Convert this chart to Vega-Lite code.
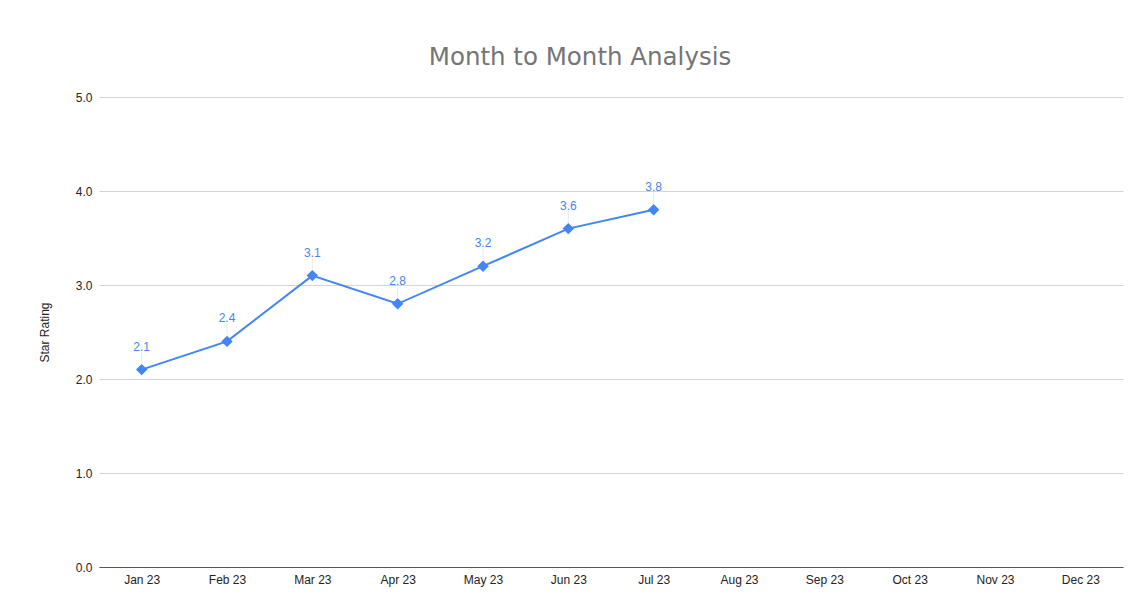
{
  "$schema": "https://vega.github.io/schema/vega-lite/v6.json",
  "autosize": {"type": "none"},
  "width": 1024,
  "height": 470,
  "padding": {"left": 99, "top": 97, "right": 19, "bottom": 42},
  "background": "white",
  "title": {
    "text": "Month to Month Analysis",
    "font": "DejaVu Sans",
    "fontSize": 24.5,
    "fontWeight": "normal",
    "color": "#757575",
    "anchor": "middle",
    "dx": -31,
    "offset": 21
  },
  "data": {
    "values": [
      {"month": "Jan 23", "rating": 2.1},
      {"month": "Feb 23", "rating": 2.4},
      {"month": "Mar 23", "rating": 3.1},
      {"month": "Apr 23", "rating": 2.8},
      {"month": "May 23", "rating": 3.2},
      {"month": "Jun 23", "rating": 3.6},
      {"month": "Jul 23", "rating": 3.8}
    ]
  },
  "encoding": {
    "x": {
      "field": "month",
      "type": "ordinal",
      "scale": {
        "type": "point",
        "padding": 0.5,
        "domain": ["Jan 23", "Feb 23", "Mar 23", "Apr 23", "May 23", "Jun 23", "Jul 23", "Aug 23", "Sep 23", "Oct 23", "Nov 23", "Dec 23"]
      },
      "axis": {
        "title": null,
        "labelAngle": 0,
        "labelFont": "Liberation Sans",
        "labelFontSize": 12,
        "labelColor": "#222222",
        "labelPadding": 7,
        "ticks": false,
        "domain": true,
        "domainColor": "#555555",
        "domainWidth": 1,
        "grid": false
      }
    },
    "y": {
      "field": "rating",
      "type": "quantitative",
      "scale": {"domain": [0, 5], "nice": false, "zero": true},
      "axis": {
        "title": "Star Rating",
        "titleFont": "Liberation Sans",
        "titleFontSize": 12,
        "titleFontWeight": "normal",
        "titleColor": "#222222",
        "titlePadding": 24,
        "values": [0, 1, 2, 3, 4, 5],
        "format": ".1f",
        "labelFont": "Liberation Sans",
        "labelFontSize": 12,
        "labelColor": "#222222",
        "labelPadding": 7,
        "ticks": false,
        "domain": false,
        "grid": true,
        "gridColor": "#d4d4d4",
        "gridWidth": 1
      }
    }
  },
  "layer": [
    {
      "mark": {"type": "tick", "orient": "vertical", "size": 12, "thickness": 1, "color": "#e3e3e3", "yOffset": -12}
    },
    {
      "mark": {"type": "line", "color": "#4285F4", "strokeWidth": 2}
    },
    {
      "mark": {"type": "point", "shape": "diamond", "filled": true, "size": 130, "color": "#4285F4", "opacity": 1}
    },
    {
      "mark": {"type": "text", "color": "#4285F4", "font": "Liberation Sans", "fontSize": 12, "dy": -23, "baseline": "middle"},
      "encoding": {"text": {"field": "rating", "type": "quantitative", "format": ".1f"}}
    }
  ],
  "config": {"view": {"stroke": null}}
}
